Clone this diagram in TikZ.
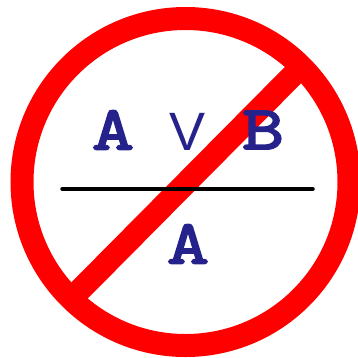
\documentclass[tikz,border=0pt]{standalone}
\usepackage{fontspec}
\setsansfont{Liberation Sans}
\newfontfamily\slabfont[FakeBold=3.2,FakeStretch=1.32]{Latin Modern Mono}
\usepackage{xcolor}
\usetikzlibrary{positioning}
\definecolor{PRed}{HTML}{FF0000}
\definecolor{PBlue}{HTML}{26228C}

\begin{document}
\begin{tikzpicture}[x=1pt,y=-1pt,
  every node/.style={inner sep=0pt},
  v/.style={font=\slabfont\fontsize{62}{62}\selectfont,text=PBlue},
  o/.style={font=\sffamily\fontsize{54}{54}\selectfont,text=PBlue},
  a/.style={line width=3.5pt,line cap=round,color=black},
  r/.style={draw=PRed,line width=23pt}
]
  \useasboundingbox (0,0) rectangle (358,357);
  \coordinate (c) at (185.5,182);
  \coordinate (nw) at (299,69);
  \coordinate (se) at (77,293);
  \coordinate (left) at (62,189);
  \coordinate (right) at (313,189);
  \draw[r] (c) circle (163.5);
  \draw[r] (nw) -- (se);
  \draw[a] (left) -- (right);
  \node[v] (p) at (113,130) {A};
  \node[o] (vee) at (188,132) {V};
  \node[v] (q) at (263,130) {B};
  \node[v] (concl) at (188,244) {A};
\end{tikzpicture}
\end{document}
